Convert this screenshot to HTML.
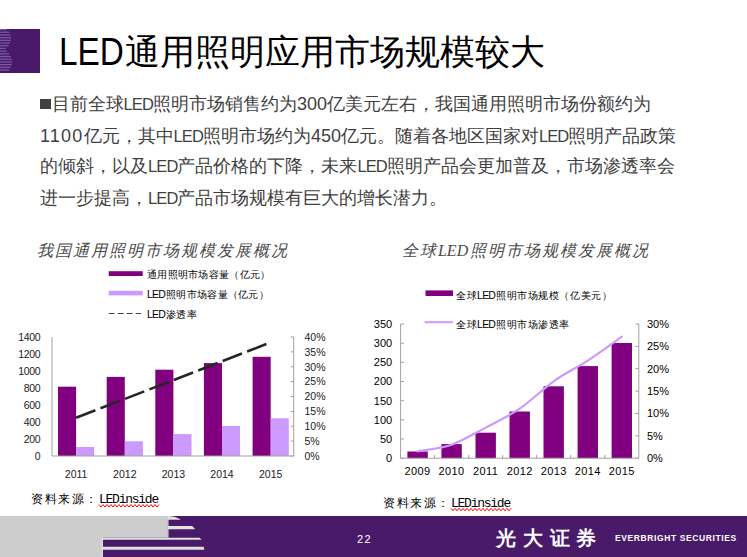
<!DOCTYPE html>
<html><head><meta charset="utf-8">
<style>
*{margin:0;padding:0;box-sizing:border-box}
html,body{width:747px;height:557px;overflow:hidden;background:#fff}
body{position:relative;font-family:"Liberation Sans",sans-serif;color:#000}
.abs{position:absolute;white-space:nowrap}
#title{left:124.9px;top:30px;font-size:35px;line-height:44px;color:#000}
#tled{left:59px;top:30px;font-size:38.5px;line-height:44px;color:#000;transform:scaleX(0.865);transform-origin:0 0}
.body{left:40px;font-size:18px;line-height:20px;color:#3f3f3f}
.l{font-size:16.5px;letter-spacing:-0.9px}
.n{letter-spacing:0}
.n1{letter-spacing:1.2px}
.ctitle{font-family:"Liberation Serif",serif;font-style:italic;font-size:16px;line-height:20px;color:#4a4a4a;letter-spacing:1.98px}
.src{font-size:12px;line-height:14px;color:#000}
.sc{letter-spacing:1.6px}
.sl{font-family:"Liberation Mono",monospace;font-size:13px;letter-spacing:-1.25px}
.leg{font-size:10px;line-height:12px;color:#000;letter-spacing:0.3px}
.ll{font-size:10.5px;letter-spacing:-0.8px;margin-right:1px}
</style></head><body>

<!-- header purple block -->
<svg class="abs" style="left:0;top:29px" width="41" height="44" viewBox="0 0 41 44">
<rect x="0" y="0" width="40" height="44" fill="#4a1a6a"/><rect x="0" y="-0.1" width="6.7" height="1.25" fill="#7a5c9e"/><rect x="0" y="2.6" width="9.0" height="1.25" fill="#7a5c9e"/><rect x="0" y="5.3" width="10.5" height="1.25" fill="#7a5c9e"/><rect x="0" y="8.0" width="11.0" height="1.25" fill="#7a5c9e"/><rect x="0" y="10.7" width="11.0" height="1.25" fill="#7a5c9e"/><rect x="0" y="13.4" width="10.0" height="1.25" fill="#7a5c9e"/><rect x="0" y="16.1" width="8.5" height="1.25" fill="#7a5c9e"/><rect x="0" y="18.8" width="5.6" height="1.25" fill="#7a5c9e"/><rect x="0" y="21.5" width="6.7" height="1.25" fill="#7a5c9e"/><rect x="0" y="24.2" width="9.0" height="1.25" fill="#7a5c9e"/><rect x="0" y="26.9" width="10.8" height="1.25" fill="#7a5c9e"/><rect x="0" y="29.6" width="11.7" height="1.25" fill="#7a5c9e"/><rect x="0" y="32.3" width="11.9" height="1.25" fill="#7a5c9e"/><rect x="0" y="35.0" width="11.7" height="1.25" fill="#7a5c9e"/><rect x="0" y="37.7" width="10.8" height="1.25" fill="#7a5c9e"/><rect x="0" y="40.4" width="9.2" height="1.25" fill="#7a5c9e"/>
</svg>

<div id="tled" class="abs">LED</div>
<div id="title" class="abs">通用照明应用市场规模较大</div>

<div class="abs" style="left:40.4px;top:99.1px;width:10.6px;height:9.6px;background:#404040"></div>
<div class="abs body" style="top:94px;left:51.6px">目前全球<span class="l">LED</span>照明市场销售约为<span class="n">300</span>亿美元左右，我国通用照明市场份额约为</div>
<div class="abs body" style="top:126px"><span class="n1">1100</span>亿元，其中<span class="l">LED</span>照明市场约为<span class="n">450</span>亿元。随着各地区国家对<span class="l">LED</span>照明产品政策</div>
<div class="abs body" style="top:156px">的倾斜，以及<span class="l">LED</span>产品价格的下降，未来<span class="l">LED</span>照明产品会更加普及，市场渗透率会</div>
<div class="abs body" style="top:188px">进一步提高，<span class="l">LED</span>产品市场规模有巨大的增长潜力。</div>

<div class="abs ctitle" style="left:37px;top:240.5px">我国通用照明市场规模发展概况</div>
<div class="abs ctitle" style="left:402px;top:240.5px">全球<span style="letter-spacing:0;margin-right:2px">LED</span>照明市场规模发展概况</div>

<div class="abs src" style="left:31px;top:492px"><span class="sc">资料来源：</span><span class="sl">LEDinside</span></div>
<div class="abs src" style="left:383px;top:496px"><span class="sc">资料来源：</span><span class="sl">LEDinside</span></div>

<div class="abs leg" style="left:147px;top:269px">通用照明市场容量（亿元）</div>
<div class="abs leg" style="left:147px;top:288px"><span class="ll">LED</span>照明市场容量（亿元）</div>
<div class="abs leg" style="left:147px;top:308px"><span class="ll">LED</span>渗透率</div>
<div class="abs leg" style="left:456px;top:289px;letter-spacing:0.55px">全球<span class="ll">LED</span>照明市场规模（亿美元）</div>
<div class="abs leg" style="left:456px;top:318px;letter-spacing:0.55px">全球<span class="ll">LED</span>照明市场渗透率</div>

<svg class="abs" style="left:0;top:0" width="747" height="557"><path d="M99 504.5L101 507L103 504.5L105 507L107 504.5L109 507L111 504.5L113 507L115 504.5L117 507L119 504.5L121 507L123 504.5L125 507L127 504.5L129 507L131 504.5L133 507L135 504.5L137 507L139 504.5L141 507L143 504.5L145 507L147 504.5L149 507L151 504.5L153 507L155 504.5L157 507L159 504.5M451 508.3L453 510.8L455 508.3L457 510.8L459 508.3L461 510.8L463 508.3L465 510.8L467 508.3L469 510.8L471 508.3L473 510.8L475 508.3L477 510.8L479 508.3L481 510.8L483 508.3L485 510.8L487 508.3L489 510.8L491 508.3L493 510.8L495 508.3L497 510.8L499 508.3L501 510.8L503 508.3L505 510.8L507 508.3L509 510.8L511 508.3" fill="none" stroke="#ff0000" stroke-width="1"/></svg>
<!--CHARTS-->
<svg class="abs" style="left:0;top:0" width="747" height="557" viewBox="0 0 747 557">
<rect x="58.0" y="386.7" width="18.1" height="69.3" fill="#800080"/>
<rect x="76.1" y="447.0" width="18.1" height="9.0" fill="#cc99ff"/>
<rect x="106.7" y="376.9" width="18.1" height="79.1" fill="#800080"/>
<rect x="124.8" y="441.3" width="18.1" height="14.7" fill="#cc99ff"/>
<rect x="155.3" y="369.7" width="18.1" height="86.3" fill="#800080"/>
<rect x="173.4" y="434.1" width="18.1" height="21.9" fill="#cc99ff"/>
<rect x="203.9" y="363.1" width="18.1" height="92.9" fill="#800080"/>
<rect x="222.0" y="426.0" width="18.1" height="30.0" fill="#cc99ff"/>
<rect x="252.6" y="356.8" width="18.1" height="99.2" fill="#800080"/>
<rect x="270.7" y="418.3" width="18.1" height="37.7" fill="#cc99ff"/>
<path d="M52.0 337.0V456.0H293.7V337.0M293.7 456.0h-3M293.7 441.1h-3M293.7 426.2h-3M293.7 411.4h-3M293.7 396.5h-3M293.7 381.6h-3M293.7 366.8h-3M293.7 351.9h-3M293.7 337.0h-3" fill="none" stroke="#a0a0a0" stroke-width="1"/>
<line x1="76.1" y1="417.8" x2="270.7" y2="342.4" stroke="#262626" stroke-width="2.6" stroke-dasharray="20.7 5.5"/>
<text x="40.2" y="459.8" text-anchor="end" font-family="Liberation Sans" font-size="10.5" letter-spacing="-0.35" fill="#222">0</text>
<text x="40.2" y="442.8" text-anchor="end" font-family="Liberation Sans" font-size="10.5" letter-spacing="-0.35" fill="#222">200</text>
<text x="40.2" y="425.8" text-anchor="end" font-family="Liberation Sans" font-size="10.5" letter-spacing="-0.35" fill="#222">400</text>
<text x="40.2" y="408.8" text-anchor="end" font-family="Liberation Sans" font-size="10.5" letter-spacing="-0.35" fill="#222">600</text>
<text x="40.2" y="391.8" text-anchor="end" font-family="Liberation Sans" font-size="10.5" letter-spacing="-0.35" fill="#222">800</text>
<text x="40.2" y="374.8" text-anchor="end" font-family="Liberation Sans" font-size="10.5" letter-spacing="-0.35" fill="#222">1000</text>
<text x="40.2" y="357.8" text-anchor="end" font-family="Liberation Sans" font-size="10.5" letter-spacing="-0.35" fill="#222">1200</text>
<text x="40.2" y="340.8" text-anchor="end" font-family="Liberation Sans" font-size="10.5" letter-spacing="-0.35" fill="#222">1400</text>
<text x="304.5" y="459.8" font-family="Liberation Sans" font-size="10.5" fill="#222">0%</text>
<text x="304.5" y="444.9" font-family="Liberation Sans" font-size="10.5" fill="#222">5%</text>
<text x="304.5" y="430.1" font-family="Liberation Sans" font-size="10.5" fill="#222">10%</text>
<text x="304.5" y="415.2" font-family="Liberation Sans" font-size="10.5" fill="#222">15%</text>
<text x="304.5" y="400.3" font-family="Liberation Sans" font-size="10.5" fill="#222">20%</text>
<text x="304.5" y="385.4" font-family="Liberation Sans" font-size="10.5" fill="#222">25%</text>
<text x="304.5" y="370.6" font-family="Liberation Sans" font-size="10.5" fill="#222">30%</text>
<text x="304.5" y="355.7" font-family="Liberation Sans" font-size="10.5" fill="#222">35%</text>
<text x="304.5" y="340.8" font-family="Liberation Sans" font-size="10.5" fill="#222">40%</text>
<text x="76.1" y="477.8" text-anchor="middle" font-family="Liberation Sans" font-size="10.5" fill="#222">2011</text>
<text x="124.8" y="477.8" text-anchor="middle" font-family="Liberation Sans" font-size="10.5" fill="#222">2012</text>
<text x="173.4" y="477.8" text-anchor="middle" font-family="Liberation Sans" font-size="10.5" fill="#222">2013</text>
<text x="222.0" y="477.8" text-anchor="middle" font-family="Liberation Sans" font-size="10.5" fill="#222">2014</text>
<text x="270.7" y="477.8" text-anchor="middle" font-family="Liberation Sans" font-size="10.5" fill="#222">2015</text>
<rect x="108.7" y="271.2" width="34" height="4.8" fill="#800080"/>
<rect x="108.7" y="290.8" width="34" height="4.6" fill="#cc99ff"/>
<line x1="108.7" y1="313.5" x2="141" y2="313.5" stroke="#404040" stroke-width="1.2" stroke-dasharray="6 3"/>
<rect x="407.4" y="451.5" width="20.4" height="6.7" fill="#800080"/>
<rect x="441.4" y="444.1" width="20.4" height="14.1" fill="#800080"/>
<rect x="475.5" y="432.7" width="20.4" height="25.5" fill="#800080"/>
<rect x="509.5" y="411.5" width="20.4" height="46.7" fill="#800080"/>
<rect x="543.5" y="386.3" width="20.4" height="71.9" fill="#800080"/>
<rect x="577.6" y="366.1" width="20.4" height="92.1" fill="#800080"/>
<rect x="611.6" y="343.0" width="20.4" height="115.2" fill="#800080"/>
<text x="392.2" y="462.1" text-anchor="end" font-family="Liberation Sans" font-size="11" fill="#000">0</text>
<text x="392.2" y="442.9" text-anchor="end" font-family="Liberation Sans" font-size="11" fill="#000">50</text>
<text x="392.2" y="423.8" text-anchor="end" font-family="Liberation Sans" font-size="11" fill="#000">100</text>
<text x="392.2" y="404.6" text-anchor="end" font-family="Liberation Sans" font-size="11" fill="#000">150</text>
<text x="392.2" y="385.4" text-anchor="end" font-family="Liberation Sans" font-size="11" fill="#000">200</text>
<text x="392.2" y="366.2" text-anchor="end" font-family="Liberation Sans" font-size="11" fill="#000">250</text>
<text x="392.2" y="347.1" text-anchor="end" font-family="Liberation Sans" font-size="11" fill="#000">300</text>
<text x="392.2" y="327.9" text-anchor="end" font-family="Liberation Sans" font-size="11" fill="#000">350</text>
<text x="647" y="462.1" font-family="Liberation Sans" font-size="11" fill="#000">0%</text>
<text x="647" y="439.7" font-family="Liberation Sans" font-size="11" fill="#000">5%</text>
<text x="647" y="417.4" font-family="Liberation Sans" font-size="11" fill="#000">10%</text>
<text x="647" y="395.0" font-family="Liberation Sans" font-size="11" fill="#000">15%</text>
<text x="647" y="372.6" font-family="Liberation Sans" font-size="11" fill="#000">20%</text>
<text x="647" y="350.3" font-family="Liberation Sans" font-size="11" fill="#000">25%</text>
<text x="647" y="327.9" font-family="Liberation Sans" font-size="11" fill="#000">30%</text>
<text x="417.6" y="475.0" text-anchor="middle" font-family="Liberation Sans" font-size="11" letter-spacing="0.4" fill="#000">2009</text>
<text x="451.6" y="475.0" text-anchor="middle" font-family="Liberation Sans" font-size="11" letter-spacing="0.4" fill="#000">2010</text>
<text x="485.7" y="475.0" text-anchor="middle" font-family="Liberation Sans" font-size="11" letter-spacing="0.4" fill="#000">2011</text>
<text x="519.7" y="475.0" text-anchor="middle" font-family="Liberation Sans" font-size="11" letter-spacing="0.4" fill="#000">2012</text>
<text x="553.7" y="475.0" text-anchor="middle" font-family="Liberation Sans" font-size="11" letter-spacing="0.4" fill="#000">2013</text>
<text x="587.8" y="475.0" text-anchor="middle" font-family="Liberation Sans" font-size="11" letter-spacing="0.4" fill="#000">2014</text>
<text x="621.8" y="475.0" text-anchor="middle" font-family="Liberation Sans" font-size="11" letter-spacing="0.4" fill="#000">2015</text>
<path d="M400.6 324.0V458.2H638.8V324.0M400.6 458.2h3.5M400.6 439.0h3.5M400.6 419.9h3.5M400.6 400.7h3.5M400.6 381.5h3.5M400.6 362.3h3.5M400.6 343.2h3.5M400.6 324.0h3.5M638.8 458.2h-3.5M638.8 435.8h-3.5M638.8 413.5h-3.5M638.8 391.1h-3.5M638.8 368.7h-3.5M638.8 346.4h-3.5M638.8 324.0h-3.5M434.6 458.2v-3.3M468.7 458.2v-3.3M502.7 458.2v-3.3M536.7 458.2v-3.3M570.7 458.2v-3.3M604.8 458.2v-3.3" fill="none" stroke="#a0a0a0" stroke-width="1"/>
<path d="M417.6 451.4 C423.3 450.3 440.3 448.6 451.6 444.7 C463.0 440.7 474.3 433.6 485.7 427.6 C497.0 421.6 508.4 416.4 519.7 408.7 C531.0 401.0 542.4 389.3 553.7 381.3 C565.1 373.2 576.4 368.0 587.8 360.6 C599.1 353.1 616.1 340.7 621.8 336.7" fill="none" stroke="#cc99ff" stroke-width="2.2" stroke-linecap="round"/>
<rect x="425.5" y="290.4" width="27.5" height="5.6" fill="#800080"/>
<line x1="424.6" y1="322.2" x2="453" y2="322.2" stroke="#cc99ff" stroke-width="2"/>
</svg>
<!--/CHARTS-->

<!-- footer -->
<svg class="abs" style="left:0;top:516px" width="747" height="41" viewBox="0 516 747 41">
<rect x="0" y="516" width="747" height="41" fill="#4a1a6a"/>
<rect x="0" y="516" width="167.5" height="21.7" fill="#cdcdcd"/>
<rect x="0" y="516" width="103" height="41" fill="#cdcdcd"/>
<path d="M167.5 516Q176 516.3 180.8 519.7H167.5Z" fill="#dfe2da"/>
<rect x="167.3" y="516" width="1.2" height="21.7" fill="#dfe2da"/>
<path d="M168 526.1H192.2L195.2 529.2H168Z" fill="#dfe2da"/>
<path d="M101.5 537.8H199.5L201.7 539.7H101.5Z" fill="#dfe2da"/>
<path d="M101.5 546.7H203.6L204.4 549.7H101.5Z" fill="#dfe2da"/>
<rect x="101.5" y="539" width="1.4" height="18" fill="#dcded6"/>
</svg>
<div class="abs" style="left:357px;top:534px;font-size:11px;line-height:11px;color:#fff;letter-spacing:1.3px">22</div>
<div class="abs" style="left:496px;top:527px;font-size:19.5px;line-height:22px;color:#fff;letter-spacing:6.8px;font-weight:bold">光大证券</div>
<div class="abs" style="left:615px;top:533px;font-size:8.5px;line-height:10px;color:#fff;font-weight:bold;letter-spacing:0.6px">EVERBRIGHT SECURITIES</div>

</body></html>
